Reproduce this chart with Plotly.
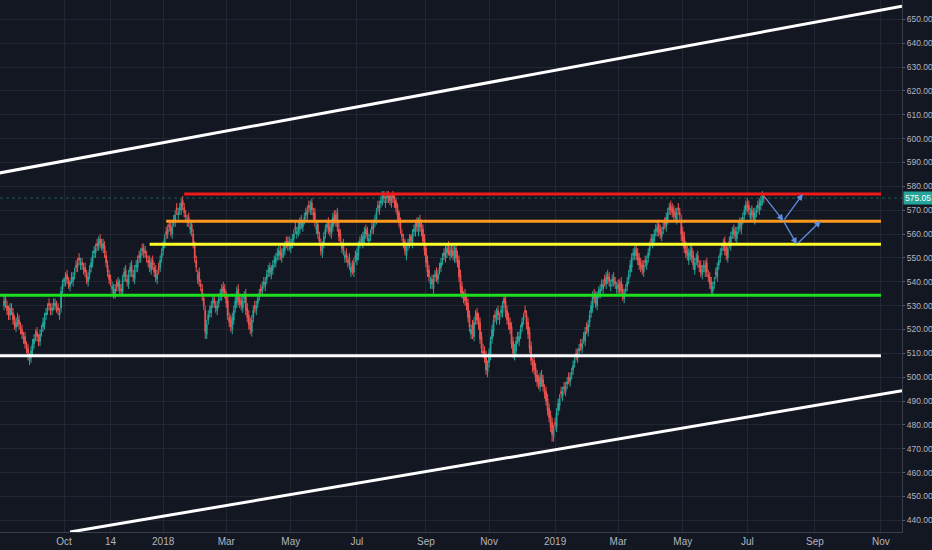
####################################
# DAILY CANDLES WITH S/R LEVELS
####################################
import plotly.graph_objects as go
import pandas as pd

# daily bars, Aug 2017 -> Jul 16 2019 (weekdays)
OPEN = [
    530,533,530,528,526,529,527,524,521,523,524,521,520,516,517,513,512,507,508,511,
    514,517,519,516,515,519,521,522,526,528,531,529,528,531,530,530,529,526,529,
    537,540,540,543,540,538,542,540,543,547,546,550,547,548,545,546,543,540,543,546,
    548,552,552,556,555,558,556,554,555,551,547,543,541,537,537,535,539,538,539,537,
    536,542,545,541,539,544,547,543,541,546,546,551,550,554,552,553,551,549,549,
    545,549,546,545,541,546,546,550,553,556,561,560,564,563,560,566,565,571,568,570,
    570,574,571,568,565,567,562,564,560,555,549,541,544,539,537,533,528,518,524,527,
    527,531,533,530,528,531,534,534,538,537,534,532,525,524,520,524,529,531,537,
    533,532,529,533,535,529,526,523,519,525,530,528,531,534,537,536,540,538,541,544,
    546,543,545,548,548,551,551,553,550,552,553,557,555,557,554,556,558,563,560,561,
    562,566,563,566,569,568,572,570,573,569,569,562,564,559,556,552,556,560,563,
    565,563,560,563,568,565,569,562,560,554,556,550,552,548,550,544,547,544,551,549,
    551,556,558,556,558,562,561,557,559,563,562,565,566,572,570,573,574,577,573,575,
    577,576,573,577,576,574,572,569,566,560,558,557,551,555,556,559,556,561,561,
    565,561,566,564,562,558,554,549,545,539,541,537,542,544,541,546,546,549,552,550,
    552,555,551,554,553,550,554,551,549,543,538,533,535,533,531,526,518,522,517,524,
    527,525,523,517,511,511,509,502,506,509,516,519,526,524,528,524,527,527,533,
    532,528,525,523,521,515,509,511,517,515,518,521,524,528,526,523,519,513,506,507,
    504,501,499,496,501,499,495,494,491,487,484,481,475,481,479,486,488,494,492,496,
    494,497,500,498,501,503,506,510,508,511,514,512,517,515,521,519,523,527,529,
    535,534,530,535,535,539,537,541,539,543,542,538,540,542,540,537,539,536,540,537,
    533,536,538,541,544,546,551,551,554,552,550,548,547,544,549,547,550,553,558,556,
    557,561,561,564,562,559,562,565,563,566,570,572,571,570,569,566,571,569,566,
    561,559,555,553,549,551,554,551,545,549,551,547,547,543,547,544,548,543,542,540,
    536,539,544,542,547,550,553,555,557,554,550,557,555,560,562,561,558,562,565,
    562,566,568,570,573,572,567,570,569,566,569,572,570,572,574,576,
]
HIGH = [
    534,535,532,530,531,531,529,526,525,527,526,523,522,519,519,515,514,510,513,516,
    518,520,521,518,520,522,525,527,529,531,533,531,531,533,533,532,531,529,538,
    541,542,544,545,542,541,544,544,546,549,550,552,550,550,548,548,545,544,547,550,
    553,555,556,558,559,560,558,558,557,553,549,545,543,540,539,539,541,542,541,539,
    543,546,547,543,545,548,549,545,547,549,551,553,554,556,556,555,553,551,551,
    550,551,548,547,545,548,551,554,557,560,563,564,566,565,565,568,570,573,571,573,
    575,576,573,570,568,569,565,566,562,557,551,545,546,541,539,535,530,524,528,530,
    532,534,535,532,532,535,537,539,540,539,536,534,527,526,527,530,534,538,539,
    535,534,534,536,537,531,528,525,526,530,532,532,535,537,539,540,542,542,545,547,
    548,547,549,551,552,554,555,555,554,556,557,559,559,559,558,560,562,565,563,565,
    567,568,566,569,571,572,574,574,575,571,571,565,566,561,558,557,561,564,566,
    567,565,566,569,570,570,571,565,562,557,558,553,554,551,552,548,549,550,553,554,
    557,559,560,561,563,564,563,560,562,565,566,568,571,574,574,576,578,578,576,578,
    578,577,577,578,577,575,573,570,567,562,560,558,556,558,560,560,562,564,566,
    567,567,568,566,564,560,556,551,547,542,543,543,545,546,545,548,550,552,554,555,
    556,557,555,556,555,555,556,553,551,545,540,536,537,535,533,528,522,524,525,528,
    529,527,525,519,514,513,511,507,512,517,522,526,528,529,530,527,530,532,535,
    534,530,527,525,523,517,514,517,519,519,522,525,527,530,528,525,521,515,508,509,
    506,503,501,502,503,501,497,496,493,489,486,483,480,483,487,491,493,496,496,498,
    498,500,502,502,504,507,509,512,512,514,516,516,519,521,523,524,528,532,536,
    537,536,536,538,539,541,541,543,544,545,544,541,543,544,542,540,541,541,542,539,
    537,539,542,545,549,552,554,555,556,554,552,550,549,549,551,551,554,557,560,560,
    562,564,565,566,564,563,565,567,569,571,573,574,573,572,571,571,573,571,568,
    563,561,557,555,554,555,556,553,550,552,553,549,549,547,549,549,550,545,544,542,
    540,542,546,548,551,554,556,558,559,556,556,559,561,563,564,563,563,565,567,
    567,569,572,574,575,574,571,572,571,571,572,574,575,576,578,577,
]
LOW = [
    528,529,526,524,524,526,522,520,519,521,520,518,516,514,512,510,507,505,506,509,
    512,515,515,513,513,517,519,520,524,526,528,526,526,528,528,527,526,524,527,
    535,538,538,539,537,536,539,538,541,544,544,547,545,545,543,542,539,538,541,544,
    546,550,550,553,553,554,553,552,550,546,542,539,538,535,533,533,536,536,535,534,
    534,540,540,538,537,542,542,540,539,544,544,548,548,551,550,550,548,546,544,
    543,545,542,540,539,543,544,548,551,554,558,558,561,559,558,563,563,568,566,568,
    568,570,567,565,563,563,560,559,554,548,544,539,538,536,532,528,516,516,522,525,
    525,529,529,527,526,529,532,532,534,533,529,524,521,519,518,522,527,529,530,
    529,528,527,531,526,523,520,518,517,523,527,526,529,532,534,534,537,536,539,542,
    542,541,543,546,546,549,549,549,548,550,551,554,553,553,552,554,556,560,558,559,
    560,562,561,564,566,566,569,568,568,566,563,560,558,555,551,550,554,558,561,
    560,559,558,561,564,563,561,557,555,552,551,548,548,546,545,542,543,542,548,547,
    549,554,555,554,556,558,557,555,557,560,560,563,564,569,568,571,572,573,571,573,
    573,572,571,573,571,569,566,563,560,557,554,551,549,553,554,555,554,559,559,
    561,559,561,559,555,551,546,542,540,537,537,535,540,540,539,543,544,547,549,548,
    550,551,549,550,549,548,548,546,540,535,533,531,530,528,523,519,516,516,515,522,
    522,520,514,510,508,506,501,500,504,507,514,517,523,522,524,522,525,525,529,
    525,522,520,518,512,508,507,509,514,513,516,519,522,525,520,516,510,505,502,501,
    498,496,495,494,496,494,491,488,484,481,477,473,473,478,477,484,486,491,490,493,
    492,495,497,496,499,501,504,507,506,509,511,510,514,513,518,517,521,525,527,
    531,529,528,533,533,536,535,538,537,539,538,536,538,538,537,535,535,534,534,532,
    531,534,536,539,542,544,549,549,549,547,545,544,543,542,546,545,548,551,555,554,
    555,559,559,559,558,557,560,562,561,564,568,568,567,566,565,564,568,566,557,
    555,552,550,549,547,549,548,545,543,547,546,544,542,541,544,542,542,540,537,535,
    534,537,541,540,545,548,551,553,551,549,548,554,553,558,558,557,556,560,561,
    560,564,566,568,569,568,565,566,565,564,567,569,568,570,572,573,
]
CLOSE = [
    532,531,528,526,529,528,524,522,523,525,522,520,518,517,514,512,510,508,511,514,
    516,518,517,515,518,520,523,525,527,529,530,528,529,530,531,529,528,527,536,
    539,541,542,541,539,540,541,542,544,546,548,549,548,547,546,544,541,542,545,548,
    551,553,554,555,557,556,555,556,552,548,544,541,540,538,535,537,538,540,537,536,
    541,544,542,540,543,546,544,542,545,547,549,550,552,553,554,552,550,548,546,
    548,547,544,542,543,545,549,552,555,558,560,562,563,561,563,565,568,570,569,571,
    573,572,569,567,566,565,563,561,556,550,546,543,540,538,534,530,519,522,526,528,
    530,532,531,529,530,533,535,537,536,535,531,526,523,521,525,528,532,536,532,
    531,530,532,534,528,525,522,520,524,528,529,530,533,535,536,538,539,540,543,545,
    544,546,547,549,550,552,553,551,552,554,555,556,557,555,556,558,560,562,561,563,
    565,564,565,567,568,570,571,572,570,568,565,563,560,557,553,555,559,562,564,
    562,561,564,567,566,568,563,559,557,555,553,551,550,549,547,546,545,548,550,552,
    555,557,557,559,561,560,559,558,560,562,564,566,569,571,572,574,576,575,574,576,
    575,574,576,575,573,571,568,565,562,559,556,553,554,556,558,557,560,562,564,
    563,565,563,561,557,553,548,544,542,540,539,541,543,542,543,545,548,550,551,553,
    554,553,553,552,551,553,550,548,542,537,535,534,532,530,525,521,520,518,523,526,
    524,522,516,512,510,508,503,505,510,515,520,524,525,527,526,525,528,530,531,
    527,524,522,520,514,510,512,515,516,517,520,523,525,527,522,518,512,507,505,503,
    500,498,497,500,498,496,493,490,486,483,479,476,478,480,485,489,491,493,494,495,
    496,498,499,500,502,505,507,509,510,512,513,514,516,519,520,522,526,530,534,
    533,531,534,536,537,538,539,540,542,541,540,539,541,540,539,538,537,539,536,534,
    535,537,540,543,547,550,552,553,551,549,547,546,545,547,548,549,552,555,557,558,
    560,562,563,561,560,561,563,564,567,569,571,570,569,568,567,569,570,568,560,
    557,554,552,551,552,553,550,547,548,550,548,546,544,545,546,547,544,542,539,537,
    538,540,543,546,549,552,554,556,553,551,554,556,559,561,560,559,561,563,563,
    565,567,570,572,571,570,569,568,567,569,570,571,573,574,576,575.05,
]
LAST_DATE = "2019-07-16"
LAST_PRICE = 575.05

# horizontal levels: price, start date, colour
LEVEL_PRICE = [576.8, 565.4, 555.7, 534.3, 509.0]
LEVEL_START = ["2018-01-22", "2018-01-04", "2017-12-20", "2017-08-01", "2017-08-01"]
LEVEL_COLOR = ["#f01a1a", "#ff9a1f", "#ffff2a", "#1ee01e", "#ffffff"]
LEVEL_END = "2019-11-01"

# channel trendlines (date, price) pairs
UPPER_LINE = [("2017-08-02", 585.6), ("2019-11-21", 655.5)]
LOWER_LINE = [("2017-10-06", 435.1), ("2019-11-21", 494.3)]

# projected path arrows (from -> to)
ARROWS = [
    (("2019-07-16", 576.0), ("2019-08-02", 565.5)),
    (("2019-08-02", 565.5), ("2019-08-21", 576.8)),
    (("2019-08-02", 565.5), ("2019-08-15", 555.7)),
    (("2019-08-15", 555.7), ("2019-09-06", 565.5)),
]

TICK_DATES = ["2017-10-02", "2017-11-14", "2018-01-02", "2018-03-01", "2018-05-01",
              "2018-07-02", "2018-09-04", "2018-11-01", "2019-01-02", "2019-03-01",
              "2019-05-01", "2019-07-01", "2019-09-02", "2019-11-01"]
TICK_TEXT = ["Oct", "14", "2018", "Mar", "May", "Jul", "Sep", "Nov", "2019",
             "Mar", "May", "Jul", "Sep", "Nov"]

n = min(len(OPEN), len(HIGH), len(LOW), len(CLOSE))
dates = pd.bdate_range(end=LAST_DATE, periods=n)

BG = "#131722"
GRID = "#232733"
AXIS_TXT = "#b2b5be"
UP = "#26a69a"
DOWN = "#ef5350"
FONT = "Liberation Sans Narrow, Liberation Sans, Arial, sans-serif"

fig = go.Figure(go.Candlestick(
    x=dates,
    open=OPEN[-n:], high=HIGH[-n:], low=LOW[-n:], close=CLOSE[-n:],
    increasing=dict(line=dict(color=UP, width=1), fillcolor=UP),
    decreasing=dict(line=dict(color=DOWN, width=1), fillcolor=DOWN),
    whiskerwidth=0,
    showlegend=False,
))

shapes = []
for p, s, c in zip(LEVEL_PRICE, LEVEL_START, LEVEL_COLOR):
    shapes.append(dict(type="line", xref="x", yref="y", x0=s, x1=LEVEL_END,
                       y0=p, y1=p, line=dict(color=c, width=3)))
for (d0, p0), (d1, p1) in [UPPER_LINE, LOWER_LINE]:
    shapes.append(dict(type="line", xref="x", yref="y", x0=d0, x1=d1,
                       y0=p0, y1=p1, line=dict(color="#ffffff", width=3)))
# last price line
shapes.append(dict(type="line", xref="paper", yref="y", x0=0, x1=1,
                   y0=LAST_PRICE, y1=LAST_PRICE,
                   line=dict(color="rgba(38,166,154,0.45)", width=1, dash="dot")))

annotations = []
for (d0, p0), (d1, p1) in ARROWS:
    annotations.append(dict(x=d1, y=p1, ax=d0, ay=p0, xref="x", yref="y",
                            axref="x", ayref="y", text="", showarrow=True,
                            arrowhead=2, arrowsize=1, arrowwidth=1.3,
                            arrowcolor="#5b8fe0"))
# last price badge, right-aligned to the page edge
annotations.append(dict(x=1, y=LAST_PRICE, xref="paper", yref="y",
                        xanchor="left", yanchor="middle", xshift=1,
                        text="%.2f" % LAST_PRICE, showarrow=False,
                        bgcolor=UP, borderpad=1,
                        font=dict(family=FONT, size=8.5, color="#ffffff")))

fig.update_layout(
    width=932, height=550,
    margin=dict(l=0, r=30, t=0, b=18, autoexpand=False),
    paper_bgcolor=BG, plot_bgcolor=BG,
    font=dict(family=FONT, size=9, color=AXIS_TXT),
    shapes=shapes,
    annotations=annotations,
    showlegend=False,
)
fig.update_xaxes(
    range=["2017-08-02 08:00", "2019-11-21"],
    rangebreaks=[dict(bounds=["sat", "mon"])],
    rangeslider_visible=False,
    tickvals=TICK_DATES, ticktext=TICK_TEXT,
    showgrid=True, gridcolor=GRID, gridwidth=1,
    showline=True, linecolor="#3a3e4a", linewidth=1,
    ticks="", tickfont=dict(size=10, color=AXIS_TXT),
    zeroline=False,
)
fig.update_yaxes(
    side="right",
    range=[435.1, 658.1],
    dtick=10, tick0=440, tickformat=".2f",
    showgrid=True, gridcolor=GRID, gridwidth=1,
    showline=True, linecolor="#3a3e4a", linewidth=1,
    ticks="outside", ticklen=2, tickcolor="#5d606b",
    ticklabelstandoff=0,
    tickfont=dict(size=8.5, color=AXIS_TXT),
    zeroline=False, automargin=False,
)

# page body has a default 8px margin; drop it so the figure fills the window
fig.write_html("out.html",
               config={"displayModeBar": False},
               post_script="document.body.style.margin='0px';"
                           "document.body.style.background='%s';" % BG)
